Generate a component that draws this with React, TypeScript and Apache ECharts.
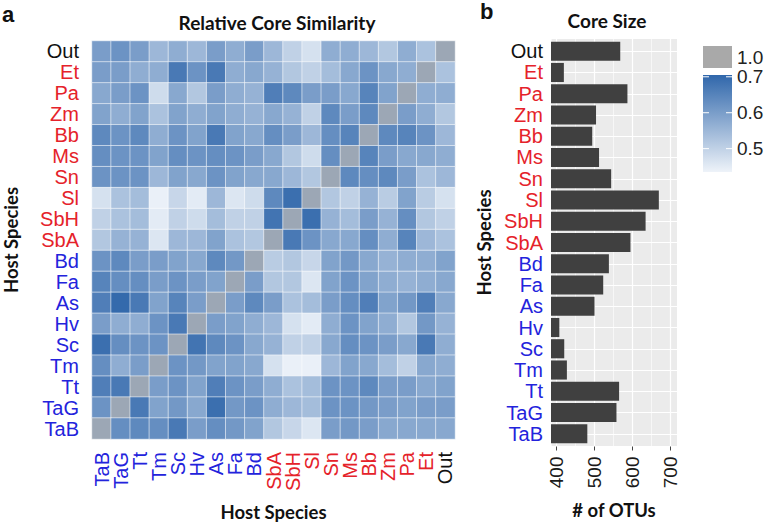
import React, { useEffect, useRef } from "react";
import * as echarts from "echarts";

// Host species, in axis order (left→right on x, bottom→top on y)
const species = ["TaB", "TaG", "Tt", "Tm", "Sc", "Hv", "As", "Fa", "Bd", "SbA", "SbH", "Sl", "Sn", "Ms", "Bb", "Zm", "Pa", "Et", "Out"];
const blueHosts = ["TaB", "TaG", "Tt", "Tm", "Sc", "Hv", "As", "Fa", "Bd"];
const redHosts = ["SbA", "SbH", "Sl", "Sn", "Ms", "Bb", "Zm", "Pa", "Et"];

// Relative core similarity, one row per host (top→bottom of the heatmap), columns in `species` order
const rowOut = [0.60, 0.62, 0.60, 0.55, 0.57, 0.55, 0.60, 0.57, 0.60, 0.55, 0.50, 0.47, 0.57, 0.57, 0.55, 0.52, 0.57, 0.53, 1.00];
const rowEt = [0.60, 0.60, 0.57, 0.57, 0.67, 0.62, 0.67, 0.57, 0.58, 0.56, 0.52, 0.50, 0.54, 0.58, 0.62, 0.58, 0.57, 1.00, 0.53];
const rowPa = [0.58, 0.60, 0.62, 0.48, 0.58, 0.52, 0.60, 0.57, 0.56, 0.66, 0.64, 0.60, 0.60, 0.58, 0.65, 0.59, 1.00, 0.57, 0.57];
const rowZm = [0.59, 0.57, 0.59, 0.53, 0.59, 0.57, 0.59, 0.57, 0.56, 0.58, 0.56, 0.50, 0.64, 0.60, 0.64, 1.00, 0.60, 0.57, 0.52];
const rowBb = [0.64, 0.62, 0.64, 0.57, 0.62, 0.59, 0.67, 0.59, 0.58, 0.63, 0.60, 0.55, 0.63, 0.65, 1.00, 0.64, 0.65, 0.62, 0.55];
const rowMs = [0.63, 0.62, 0.62, 0.59, 0.63, 0.62, 0.63, 0.62, 0.60, 0.58, 0.52, 0.48, 0.63, 1.00, 0.65, 0.60, 0.58, 0.58, 0.57];
const rowSn = [0.62, 0.62, 0.62, 0.55, 0.59, 0.58, 0.62, 0.59, 0.58, 0.58, 0.55, 0.52, 1.00, 0.64, 0.63, 0.64, 0.60, 0.53, 0.55];
const rowSl = [0.47, 0.53, 0.54, 0.44, 0.49, 0.45, 0.55, 0.46, 0.48, 0.64, 0.69, 1.00, 0.52, 0.50, 0.56, 0.51, 0.59, 0.51, 0.47];
const rowSbH = [0.50, 0.53, 0.54, 0.45, 0.50, 0.48, 0.54, 0.50, 0.50, 0.68, 1.00, 0.69, 0.56, 0.54, 0.60, 0.56, 0.63, 0.52, 0.50];
const rowSbA = [0.52, 0.56, 0.56, 0.46, 0.55, 0.55, 0.59, 0.53, 0.52, 1.00, 0.67, 0.62, 0.58, 0.58, 0.63, 0.57, 0.65, 0.55, 0.53];
const rowBd = [0.62, 0.64, 0.60, 0.60, 0.59, 0.58, 0.64, 0.61, 1.00, 0.51, 0.52, 0.49, 0.59, 0.61, 0.58, 0.56, 0.57, 0.57, 0.59];
const rowFa = [0.65, 0.63, 0.63, 0.60, 0.62, 0.60, 0.59, 1.00, 0.60, 0.52, 0.52, 0.46, 0.59, 0.62, 0.59, 0.57, 0.56, 0.57, 0.58];
const rowAs = [0.66, 0.70, 0.67, 0.59, 0.65, 0.60, 1.00, 0.60, 0.64, 0.60, 0.53, 0.54, 0.60, 0.63, 0.66, 0.59, 0.61, 0.66, 0.58];
const rowHv = [0.60, 0.57, 0.57, 0.62, 0.67, 1.00, 0.60, 0.59, 0.57, 0.55, 0.47, 0.45, 0.57, 0.62, 0.59, 0.57, 0.52, 0.61, 0.56];
const rowSc = [0.69, 0.63, 0.62, 0.62, 1.00, 0.68, 0.64, 0.62, 0.58, 0.56, 0.50, 0.50, 0.58, 0.63, 0.62, 0.60, 0.58, 0.67, 0.57];
const rowTm = [0.63, 0.57, 0.60, 1.00, 0.62, 0.61, 0.59, 0.59, 0.58, 0.47, 0.44, 0.44, 0.55, 0.59, 0.58, 0.54, 0.50, 0.58, 0.57];
const rowTt = [0.66, 0.67, 1.00, 0.60, 0.62, 0.59, 0.66, 0.62, 0.60, 0.57, 0.53, 0.54, 0.62, 0.62, 0.64, 0.60, 0.60, 0.58, 0.59];
const rowTaG = [0.62, 1.00, 0.67, 0.59, 0.61, 0.58, 0.69, 0.61, 0.62, 0.57, 0.55, 0.54, 0.62, 0.62, 0.61, 0.60, 0.59, 0.60, 0.60];
const rowTaB = [1.00, 0.63, 0.64, 0.63, 0.67, 0.60, 0.63, 0.61, 0.59, 0.52, 0.49, 0.46, 0.60, 0.61, 0.60, 0.58, 0.58, 0.58, 0.58];
const similarityRows = [rowOut, rowEt, rowPa, rowZm, rowBb, rowMs, rowSn, rowSl, rowSbH, rowSbA, rowBd, rowFa, rowAs, rowHv, rowSc, rowTm, rowTt, rowTaG, rowTaB];

// Core size (# of OTUs), in `species` order
const coreSize = [481, 558, 565, 427, 420, 407, 500, 523, 538, 595, 635, 670, 544, 512, 494, 504, 587, 419, 568];
const otuTicks = [400, 500, 600, 700];

// Colour scale legend
const legendTicks = [0.5, 0.6, 0.7];
const scaleMin = 0.435;
const scaleMax = 0.705;

const LIGHT = "#eef3f9";
const DARK = "#3067ab";
const DIAG = "#9ca7b5";
const BLUE = "#2323dc";
const RED = "#e5222a";

function hostColor(name: string) {
  if (blueHosts.includes(name)) return BLUE;
  if (redHosts.includes(name)) return RED;
  return "#111111";
}

export default function App() {
  const ref = useRef<HTMLDivElement>(null);
  useEffect(() => {
    if (!ref.current) return;
    const chart = echarts.init(ref.current, null, { renderer: "svg" });
    const n = species.length;
    const heatData: number[][] = [];
    similarityRows.forEach((row, r) => {
      const yi = n - 1 - r;
      row.forEach((v, xi) => heatData.push([xi, yi, v]));
    });

    const labelFont = "Liberation Sans";
    const titleFont = "Lato";
    const nameStyle = { fontFamily: titleFont, fontWeight: "bold", fontSize: 18.5, color: "#111" };

    // legend geometry
    const lgX = 703, lgW = 29, lgTop = 75, lgBottom = 172;
    const yOf = (v: number) => lgBottom - ((v - scaleMin) / (scaleMax - scaleMin)) * (lgBottom - lgTop);
    const legendEls: any[] = [
      { type: "rect", shape: { x: lgX, y: 46, width: lgW, height: 22 }, style: { fill: "#a9a9a9" } },
      { type: "text", x: 737, y: 57, style: { text: "1.0", font: `19px ${labelFont}`, fill: "#222", verticalAlign: "middle", align: "left" } },
      {
        type: "rect",
        shape: { x: lgX, y: lgTop, width: lgW, height: lgBottom - lgTop },
        style: {
          fill: new echarts.graphic.LinearGradient(0, 0, 0, 1, [
            { offset: 0, color: DARK },
            { offset: 1, color: LIGHT },
          ]),
        },
      },
    ];
    legendTicks.forEach((t) => {
      const y = yOf(t);
      legendEls.push({ type: "line", shape: { x1: lgX, y1: y, x2: lgX + 6, y2: y }, style: { stroke: "#fff", lineWidth: 1 } });
      legendEls.push({ type: "line", shape: { x1: lgX + lgW - 6, y1: y, x2: lgX + lgW, y2: y }, style: { stroke: "#fff", lineWidth: 1 } });
      legendEls.push({ type: "text", x: 737, y, style: { text: t.toFixed(1), font: `19px ${labelFont}`, fill: "#222", verticalAlign: "middle", align: "left" } });
    });

    const option: any = {
      animation: false,
      textStyle: { fontFamily: labelFont },
      grid: [
        { left: 87, top: 41, width: 368, height: 402 },
        { left: 551, top: 40.6, width: 126, height: 403.8 },
        { left: 551, top: 38.5, width: 126, height: 408, show: true, backgroundColor: "#ebebeb", borderWidth: 0 },
      ],
      xAxis: [
        {
          gridIndex: 0,
          type: "category",
          data: species,
          axisLine: { show: false },
          axisTick: { alignWithLabel: true, length: 4, lineStyle: { color: "#444" } },
          axisLabel: { rotate: 90, margin: 13, fontSize: 20, interval: 0, color: (v: string) => hostColor(v) },
          splitLine: { show: false },
          name: "Host Species",
          nameLocation: "middle",
          nameGap: 63,
          nameTextStyle: nameStyle,
        },
        { gridIndex: 1, type: "value", min: 385, max: 718, show: false },
        {
          gridIndex: 2,
          type: "value",
          min: 385,
          max: 718,
          splitNumber: 7,
          position: "top",
          axisLine: { show: false },
          axisTick: { show: false },
          axisLabel: { show: false },
          splitLine: { show: true, lineStyle: { color: "#ffffff", width: 0.6 } },
        },
        {
          gridIndex: 2,
          type: "value",
          min: 385,
          max: 718,
          splitNumber: 3,
          position: "bottom",
          axisLine: { show: false },
          axisTick: { show: true, length: 4, lineStyle: { color: "#444" }, customValues: otuTicks },
          axisLabel: { rotate: 90, margin: 10, fontSize: 19, color: "#1a1a1a", customValues: otuTicks },
          splitLine: { show: true, lineStyle: { color: "#ffffff", width: 1.2 } },
          name: "# of OTUs",
          nameLocation: "middle",
          nameGap: 54,
          nameTextStyle: nameStyle,
        },
      ],
      yAxis: [
        {
          gridIndex: 0,
          type: "category",
          data: species,
          axisLine: { show: false },
          axisTick: { alignWithLabel: true, length: 4, lineStyle: { color: "#444" } },
          axisLabel: { margin: 13, fontSize: 20, interval: 0, color: (v: string) => hostColor(v) },
          splitLine: { show: false },
          name: "Host Species",
          nameLocation: "middle",
          nameGap: 72,
          nameTextStyle: nameStyle,
        },
        {
          gridIndex: 1,
          type: "category",
          data: species,
          axisLine: { show: false },
          axisTick: { alignWithLabel: true, length: 4, lineStyle: { color: "#444" } },
          axisLabel: { margin: 8, fontSize: 20, interval: 0, color: (v: string) => hostColor(v) },
          splitLine: { show: false },
          name: "Host Species",
          nameLocation: "middle",
          nameGap: 58,
          nameTextStyle: nameStyle,
        },
        {
          gridIndex: 2,
          type: "value",
          min: -0.6,
          max: 18.6,
          splitNumber: 19,
          axisLine: { show: false },
          axisTick: { show: false },
          axisLabel: { show: false },
          splitLine: { show: true, lineStyle: { color: "#ffffff", width: 1.2 } },
        },
      ],
      visualMap: {
        type: "continuous",
        show: false,
        seriesIndex: 0,
        dimension: 2,
        min: scaleMin,
        max: scaleMax,
        range: [scaleMin, scaleMax - 0.001],
        inRange: { color: [LIGHT, DARK] },
        outOfRange: { color: DIAG },
      },
      series: [
        {
          type: "heatmap",
          xAxisIndex: 0,
          yAxisIndex: 0,
          data: heatData,
          itemStyle: { borderColor: "rgba(255,255,255,0.55)", borderWidth: 1 },
          emphasis: { disabled: true },
        },
        {
          type: "bar",
          xAxisIndex: 1,
          yAxisIndex: 1,
          data: coreSize,
          barWidth: "90%",
          clip: true,
          itemStyle: { color: "#404040" },
        },
      ],
      graphic: [
        { type: "text", x: 2, y: 3, style: { text: "a", font: `bold 22px ${labelFont}`, fill: "#111" } },
        { type: "text", x: 480, y: 0, style: { text: "b", font: `bold 22px ${labelFont}`, fill: "#111" } },
        { type: "text", x: 277, y: 22, style: { text: "Relative Core Similarity", font: `bold 19px ${titleFont}`, fill: "#111", align: "center", verticalAlign: "middle" } },
        { type: "text", x: 607, y: 20, style: { text: "Core Size", font: `bold 19px ${titleFont}`, fill: "#111", align: "center", verticalAlign: "middle" } },
        ...legendEls,
      ],
    };
    chart.setOption(option);
    return () => chart.dispose();
  }, []);
  return <div ref={ref} style={{ position: "fixed", left: 0, top: 0, width: 765, height: 526, background: "#fff" }} />;
}
